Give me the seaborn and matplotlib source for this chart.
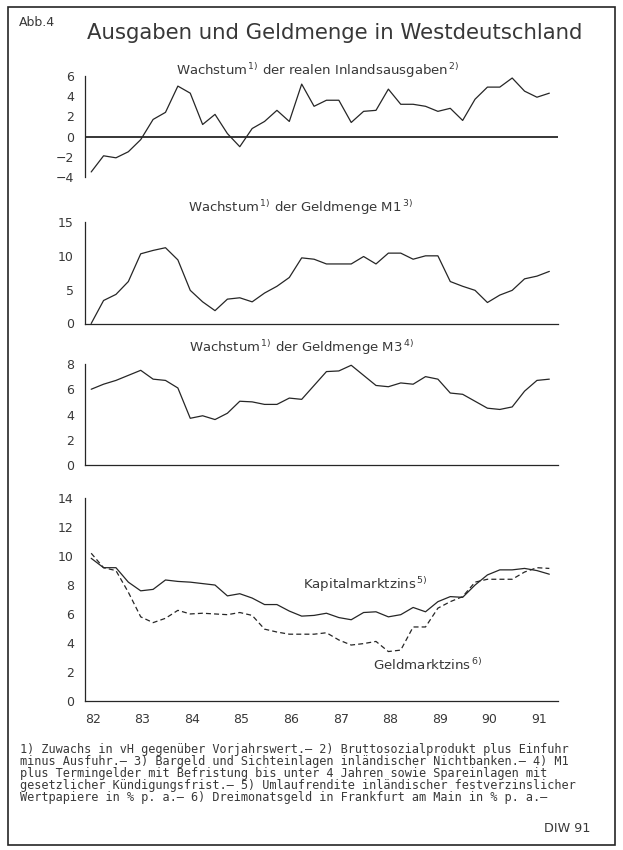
import matplotlib
matplotlib.use("Agg")
import matplotlib.pyplot as plt
import seaborn as sns
import pandas as pd
from matplotlib.patches import Rectangle

# ---- data (quarterly, 1982 Q1 .. 1991 Q2) ----
years = list(range(82, 92))
n_quarters = 38

inlandsausgaben = [-3.5, -1.9, -2.1, -1.5, -0.3, 1.7, 2.4, 5.0, 4.3, 1.2,
                   2.2, 0.3, -1.0, 0.8, 1.5, 2.6, 1.5, 5.2, 3.0, 3.6,
                   3.6, 1.4, 2.5, 2.6, 4.7, 3.2, 3.2, 3.0, 2.5, 2.8,
                   1.6, 3.7, 4.9, 4.9, 5.8, 4.5, 3.9, 4.3]

geldmenge_m1 = [0.0, 3.4, 4.3, 6.2, 10.3, 10.8, 11.2, 9.4, 4.9, 3.2,
                1.9, 3.6, 3.8, 3.2, 4.5, 5.5, 6.8, 9.7, 9.5, 8.8,
                8.8, 8.8, 9.9, 8.8, 10.4, 10.4, 9.5, 10.0, 10.0, 6.2,
                5.5, 4.9, 3.1, 4.2, 4.9, 6.6, 7.0, 7.7]

geldmenge_m3 = [6.0, 6.4, 6.7, 7.1, 7.5, 6.8, 6.7, 6.1, 3.7, 3.9,
                3.6, 4.1, 5.05, 5.0, 4.8, 4.8, 5.3, 5.2, 6.3, 7.4,
                7.45, 7.9, 7.1, 6.3, 6.2, 6.5, 6.4, 7.0, 6.8, 5.7,
                5.6, 5.05, 4.5, 4.4, 4.6, 5.85, 6.7, 6.8]

kapitalmarktzins = [9.85, 9.2, 9.2, 8.2, 7.6, 7.7, 8.35, 8.25, 8.2, 8.1,
                    8.0, 7.25, 7.4, 7.1, 6.65, 6.65, 6.2, 5.85, 5.9, 6.05,
                    5.75, 5.6, 6.1, 6.15, 5.8, 5.95, 6.45, 6.15, 6.85, 7.2,
                    7.15, 8.0, 8.7, 9.05, 9.05, 9.15, 9.0, 8.75]

geldmarktzins = [10.2, 9.2, 9.0, 7.5, 5.8, 5.4, 5.7, 6.25, 6.0, 6.05,
                 6.0, 5.95, 6.1, 5.9, 4.95, 4.75, 4.6, 4.6, 4.6, 4.7,
                 4.2, 3.85, 3.95, 4.1, 3.4, 3.5, 5.1, 5.1, 6.4, 6.85,
                 7.2, 8.2, 8.4, 8.4, 8.4, 8.9, 9.2, 9.15]

footnotes = [
    "1) Zuwachs in vH gegenüber Vorjahrswert.– 2) Bruttosozialprodukt plus Einfuhr",
    "minus Ausfuhr.– 3) Bargeld und Sichteinlagen inländischer Nichtbanken.– 4) M1",
    "plus Termingelder mit Befristung bis unter 4 Jahren sowie Spareinlagen mit",
    "gesetzlicher Kündigungsfrist.– 5) Umlaufrendite inländischer festverzinslicher",
    "Wertpapiere in % p. a.– 6) Dreimonatsgeld in Frankfurt am Main in % p. a.–",
]

# quarter mid-points on a "year" axis
t = [82 + (q + 0.5) / 4 for q in range(n_quarters)]
df = pd.DataFrame({"t": t, "inland": inlandsausgaben, "m1": geldmenge_m1,
                   "m3": geldmenge_m3, "kap": kapitalmarktzins, "geld": geldmarktzins})

sns.set_style("white")
plt.rcParams["font.family"] = ["DejaVu Sans"]
plt.rcParams["mathtext.fontset"] = "dejavusans"

W, H = 623, 850
LINE = "#262626"
TXT = "#383838"

fig = plt.figure(figsize=(W / 100, H / 100), dpi=100)


def px_axes(y_top, y_bot, x0=85, x1=558):
    return fig.add_axes([x0 / W, 1 - y_bot / H, (x1 - x0) / W, (y_bot - y_top) / H])


def ftext(x, y, s, **kw):
    kw.setdefault("color", TXT)
    fig.text(x / W, 1 - y / H, s, **kw)


def style(ax, ylim, yticks, bottom=True):
    ax.set_xlim(82, 91.55)
    ax.set_ylim(*ylim)
    ax.set_yticks(yticks)
    ax.set_xlabel("")
    ax.set_ylabel("")
    for side in ["top", "right"]:
        ax.spines[side].set_visible(False)
    ax.spines["bottom"].set_visible(bottom)
    for s in ax.spines.values():
        s.set_color(LINE)
        s.set_linewidth(0.9)
    ax.tick_params(axis="y", direction="inout", length=6, width=0.8,
                   labelsize=9, colors=LINE, labelcolor=TXT, pad=5)
    ax.patch.set_alpha(0)


# panel 1: Inlandsausgaben
ax1 = px_axes(76, 177)
sns.lineplot(data=df, x="t", y="inland", ax=ax1, color=LINE, linewidth=0.9)
ax1.axhline(0, color=LINE, linewidth=1.3)
style(ax1, (-4, 6), [-4, -2, 0, 2, 4, 6], bottom=False)
ax1.set_xticks([])

# panel 2: M1
ax2 = px_axes(222, 323.5)
sns.lineplot(data=df, x="t", y="m1", ax=ax2, color=LINE, linewidth=0.9)
style(ax2, (0, 15), [0, 5, 10, 15])
ax2.set_xticks([])

# panel 3: M3
ax3 = px_axes(364, 465)
sns.lineplot(data=df, x="t", y="m3", ax=ax3, color=LINE, linewidth=0.9)
style(ax3, (0, 8), [0, 2, 4, 6, 8])
ax3.set_xticks([])

# panel 4: interest rates
ax4 = px_axes(498.3, 700.7)
sns.lineplot(data=df, x="t", y="kap", ax=ax4, color=LINE, linewidth=0.9)
sns.lineplot(data=df, x="t", y="geld", ax=ax4, color=LINE, linewidth=0.9,
             linestyle=(0, (4, 2.5)))
style(ax4, (0, 14), [0, 2, 4, 6, 8, 10, 12, 14])
ax4.set_xticks(years)
ax4.set_xticklabels([str(y) for y in years], ha="left")
ax4.set_xticks([82 + q / 4 for q in range(39)], minor=True)
ax4.tick_params(axis="x", which="both", direction="inout", length=5, width=0.8,
                labelsize=9, colors=LINE, labelcolor=TXT, pad=6)

# texts
ftext(19, 22, "Abb.4", fontsize=9, va="center")
ftext(335, 33, "Ausgaben und Geldmenge in Westdeutschland", fontsize=15.3,
      ha="center", va="center")
ftext(318, 71, r"Wachstum$^{\,1)}$ der realen Inlandsausgaben$^{\,2)}$",
      fontsize=9.5, ha="center", va="center")
ftext(301, 208, r"Wachstum$^{\,1)}$ der Geldmenge M1$^{\,3)}$",
      fontsize=9.5, ha="center", va="center")
ftext(302, 348, r"Wachstum$^{\,1)}$ der Geldmenge M3$^{\,4)}$",
      fontsize=9.5, ha="center", va="center")
ftext(303, 585, r"Kapitalmarktzins$^{\,5)}$", fontsize=9.6, va="center")
ftext(373, 665, r"Geldmarktzins$^{\,6)}$", fontsize=9.6, va="center")

for k, line in enumerate(footnotes):
    ftext(20, 749 + k * 12, line, fontsize=8.6, va="center",
          family="DejaVu Sans Mono")
ftext(590, 829, "DIW 91", fontsize=9.2, ha="right", va="center")

fig.patches.append(Rectangle((8 / W, 1 - 845 / H), 607 / W, 838 / H,
                             transform=fig.transFigure, fill=False,
                             edgecolor=LINE, linewidth=1.2))

fig.savefig("out.png", dpi=100)
